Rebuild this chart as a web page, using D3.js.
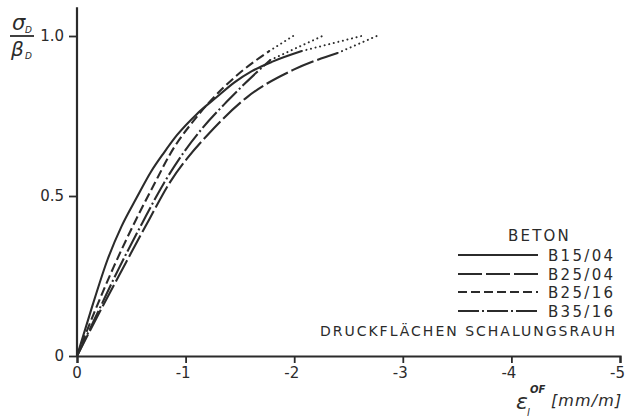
<!DOCTYPE html>
<html><head><meta charset="utf-8">
<script src="https://cdn.jsdelivr.net/npm/d3@7"></script>
<style>
body{margin:0;background:#fff;}
svg{display:block;}
text{font-family:"DejaVu Sans",sans-serif;fill:#2b2b2b;}
</style></head>
<body><svg id="c" width="626" height="418"></svg>
<script>
// ---- data ----
const xTicks = [0, -1, -2, -3, -4, -5];
const xTickLabels = ["0", "-1", "-2", "-3", "-4", "-5"];
const yTicks = [0, 0.5, 1.0];
const yTickLabels = ["0", "0.5", "1.0"];

const seriesNames = ["B15/04", "B25/04", "B25/16", "B35/16"];
// measured parts (strain in mm/m, stress ratio)
const strainB1504 = [0, -0.14, -0.28, -0.41, -0.55, -0.68, -0.80, -0.92, -1.10, -1.29, -1.45, -1.61, -1.80, -2.07];
const sigmaB1504  = [0, 0.155, 0.30, 0.405, 0.495, 0.575, 0.635, 0.69, 0.755, 0.81, 0.855, 0.89, 0.92, 0.953];
const strainB2504 = [0, -0.22, -0.44, -0.67, -0.86, -1.02, -1.20, -1.57, -1.99, -2.40];
const sigmaB2504  = [0, 0.145, 0.285, 0.43, 0.545, 0.62, 0.69, 0.81, 0.894, 0.947];
const strainB2516 = [0, -0.17, -0.34, -0.52, -0.70, -0.90, -1.05, -1.21, -1.50, -1.77];
const sigmaB2516  = [0, 0.145, 0.28, 0.41, 0.53, 0.655, 0.725, 0.79, 0.885, 0.953];
const strainB3516 = [0, -0.19, -0.38, -0.60, -0.80, -0.98, -1.15, -1.38, -1.65, -1.78];
const sigmaB3516  = [0, 0.135, 0.27, 0.415, 0.54, 0.635, 0.71, 0.795, 0.885, 0.925];
// dotted extrapolations to failure (sigma = 1.0)
const extStrainB1504 = [-2.07, -2.62];
const extSigmaB1504  = [0.953, 1.0];
const extStrainB2504 = [-2.40, -2.76];
const extSigmaB2504  = [0.947, 1.0];
const extStrainB2516 = [-1.77, -1.99];
const extSigmaB2516  = [0.953, 1.0];
const extStrainB3516 = [-1.78, -2.26];
const extSigmaB3516  = [0.925, 1.0];

// ---- drawing ----
const ink = "#2b2b2b";
const svg = d3.select("#c");
const x = d3.scaleLinear().domain([0, -5]).range([77, 620]);
const y = d3.scaleLinear().domain([0, 1]).range([356, 36]);

const dashes = {
  "B15/04": null,
  "B25/04": "24,4",
  "B25/16": "9,4",
  "B35/16": "21,3,2,3"
};
const main = {
  "B15/04": [strainB1504, sigmaB1504],
  "B25/04": [strainB2504, sigmaB2504],
  "B25/16": [strainB2516, sigmaB2516],
  "B35/16": [strainB3516, sigmaB3516]
};
const ext = {
  "B15/04": [extStrainB1504, extSigmaB1504],
  "B25/04": [extStrainB2504, extSigmaB2504],
  "B25/16": [extStrainB2516, extSigmaB2516],
  "B35/16": [extStrainB3516, extSigmaB3516]
};

// axes
const xAxis = d3.axisBottom(x).tickValues(xTicks).tickSize(7).tickFormat(()=>"");
const gx = svg.append("g").attr("transform","translate(0,356)").call(xAxis);
gx.select(".domain").attr("stroke",ink).attr("stroke-width",2.2);
gx.selectAll(".tick line").attr("stroke",ink).attr("stroke-width",1.8);
const gxl = svg.append("g");
xTicks.forEach((t,i)=>{
  gxl.append("text").attr("x", i===0 ? x(t) : x(t)+5).attr("y",378)
    .attr("text-anchor", i===0 ? "middle" : "end")
    .attr("font-size",15).text(xTickLabels[i]);
});

const yAxis = d3.axisLeft(y).tickValues(yTicks).tickSize(8).tickFormat(()=> "");
const gy = svg.append("g").attr("transform","translate(77,0)").call(yAxis);
gy.select(".domain").remove();
gy.selectAll(".tick line").attr("stroke",ink).attr("stroke-width",1.8);
svg.append("line").attr("x1",77).attr("x2",77).attr("y1",y(0)+1).attr("y2",y(1.09))
  .attr("stroke",ink).attr("stroke-width",2.2);
yTicks.forEach((t,i)=>{
  svg.append("text").attr("x",64).attr("y",y(t)+5).attr("text-anchor","end")
    .attr("font-size",15).text(yTickLabels[i]);
});

// curves
const line = d3.line().x(d=>x(d[0])).y(d=>y(d[1])).curve(d3.curveMonotoneX);
const straight = d3.line().x(d=>x(d[0])).y(d=>y(d[1]));
seriesNames.forEach(n=>{
  const [xs, ys] = main[n];
  svg.append("path").attr("d", line(xs.map((v,i)=>[v, ys[i]])))
    .attr("fill","none").attr("stroke",ink).attr("stroke-width",2.1)
    .attr("stroke-dasharray", dashes[n]);
  const [ex, ey] = ext[n];
  svg.append("path").attr("d", straight(ex.map((v,i)=>[v, ey[i]])))
    .attr("fill","none").attr("stroke",ink).attr("stroke-width",2)
    .attr("stroke-linecap","round").attr("stroke-dasharray","0.1,4.6");
});

// legend
svg.append("text").attr("x",508).attr("y",241).attr("font-size",15)
  .attr("letter-spacing",2.2).text("BETON");
const rowY = [255, 274, 292, 311];
seriesNames.forEach((n,i)=>{
  svg.append("line").attr("x1",458).attr("x2",538).attr("y1",rowY[i]).attr("y2",rowY[i])
    .attr("stroke",ink).attr("stroke-width",2).attr("stroke-dasharray", dashes[n]);
  svg.append("text").attr("x",548).attr("y",rowY[i]+5.5).attr("font-size",15)
    .attr("letter-spacing",2.3).text(n);
});
svg.append("text").attr("x",617).attr("y",336).attr("text-anchor","end")
  .attr("font-size",14).attr("letter-spacing",2).text("DRUCKFLÄCHEN SCHALUNGSRAUH");

// y label fraction
const yl = svg.append("g");
yl.append("text").attr("x",12).attr("y",30).attr("font-size",21).attr("font-style","italic").text("σ");
yl.append("text").attr("x",25).attr("y",33).attr("font-size",9).attr("font-style","italic").text("D");
yl.append("line").attr("x1",10).attr("x2",34).attr("y1",36).attr("y2",36).attr("stroke",ink).attr("stroke-width",1.8);
yl.append("text").attr("x",11).attr("y",56).attr("font-size",20).attr("font-style","italic").text("β");
yl.append("text").attr("x",25).attr("y",59).attr("font-size",9).attr("font-style","italic").text("D");

// x label
const xl = svg.append("g");
xl.append("text").attr("x",516).attr("y",409).attr("font-size",22).attr("font-style","italic").text("ε");
xl.append("text").attr("x",527).attr("y",416).attr("font-size",10).attr("font-style","italic").text("l");
xl.append("text").attr("x",530).attr("y",393).attr("font-size",10).attr("font-weight","bold").attr("font-style","italic").text("OF");
xl.append("text").attr("x",551).attr("y",406).attr("font-size",16).attr("font-style","italic")
  .attr("letter-spacing",1.1).text("[mm/m]");
</script></body></html>
